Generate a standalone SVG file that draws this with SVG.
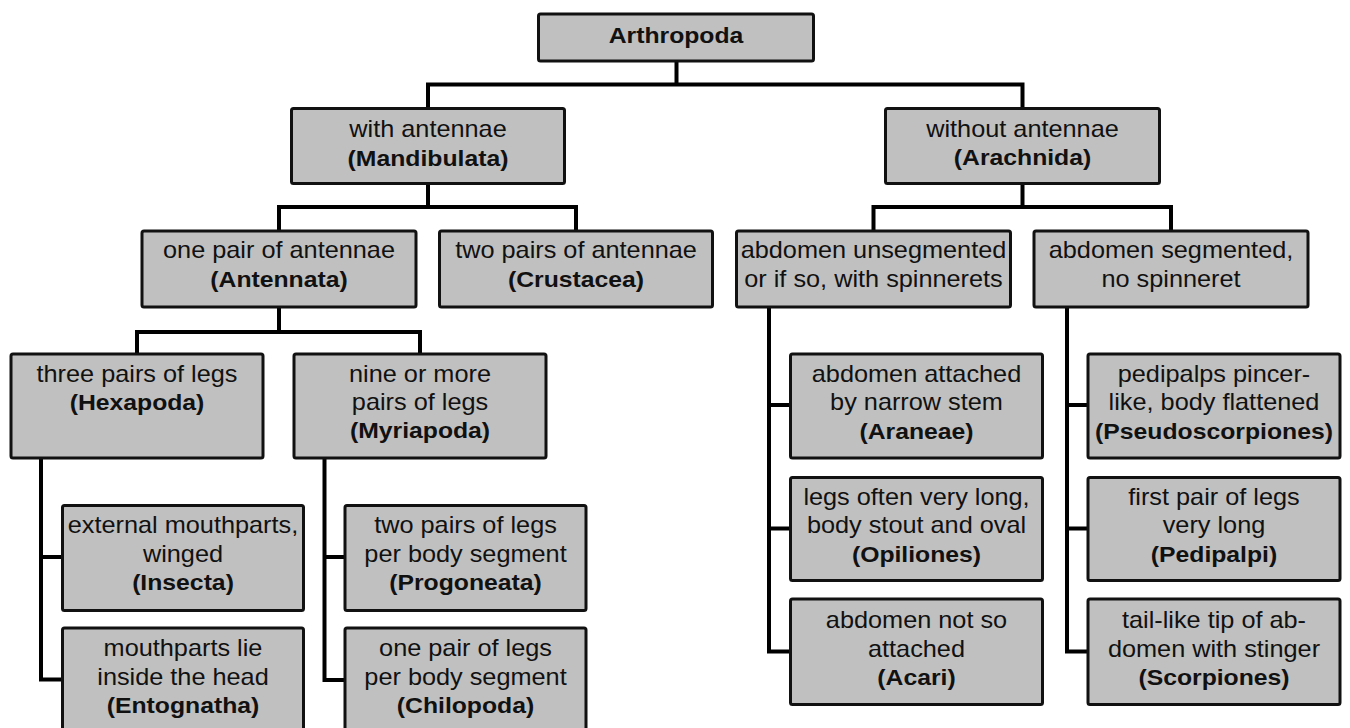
<svg xmlns="http://www.w3.org/2000/svg" width="1350" height="728" viewBox="0 0 1350 728">
<style>
.box{fill:#c0c0c0;stroke:#111;stroke-width:3;rx:2;ry:2}
.con{fill:none;stroke:#000;stroke-width:4;stroke-linejoin:miter;stroke-linecap:square}
text{font-family:"Liberation Sans",Arial,Helvetica,sans-serif;font-size:23px;fill:#111;text-anchor:middle}
.b{font-weight:bold;font-size:22.5px}
</style>
<rect width="1350" height="728" fill="#fff"/>
<g id="connectors">
<path class="con" d="M676.5 62V84.5M428 107V84.5H1022.5V107"/>
<path class="con" d="M428 184V207M279 230V207H576V230"/>
<path class="con" d="M1022.5 185V207M873.5 230V207H1171V230"/>
<path class="con" d="M279 308V332M137 353V332H420V353"/>
<path class="con" d="M41 459V679.5H62M41 557H62"/>
<path class="con" d="M324.5 459V680H345M324.5 557H345"/>
<path class="con" d="M769 308V651.5H790M769 405H790M769 528.5H790"/>
<path class="con" d="M1067 308V651.5H1088M1067 405H1088M1067 528.5H1088"/>
</g>
<g id="arthropoda"><rect class="box" x="538.5" y="14" width="275" height="47"/>
<text transform="translate(676 0) scale(1.1 1)"><tspan class="b" x="0" y="43">Arthropoda</tspan></text></g>
<g id="mandibulata"><rect class="box" x="291.5" y="108.5" width="273" height="75"/>
<text transform="translate(428 0) scale(1.1 1)"><tspan x="0" y="137.3">with antennae</tspan><tspan class="b" x="0" y="165.7">(Mandibulata)</tspan></text></g>
<g id="arachnida"><rect class="box" x="885.5" y="108.5" width="274" height="75"/>
<text transform="translate(1022.5 0) scale(1.1 1)"><tspan x="0" y="137">without antennae</tspan><tspan class="b" x="0" y="165.4">(Arachnida)</tspan></text></g>
<g id="antennata"><rect class="box" x="142" y="231" width="274" height="76"/>
<text transform="translate(279 0) scale(1.1 1)"><tspan x="0" y="258.3">one pair of antennae</tspan><tspan class="b" x="0" y="286.7">(Antennata)</tspan></text></g>
<g id="crustacea"><rect class="box" x="439.5" y="231" width="273" height="76"/>
<text transform="translate(576 0) scale(1.1 1)"><tspan x="0" y="258.3">two pairs of antennae</tspan><tspan class="b" x="0" y="286.7">(Crustacea)</tspan></text></g>
<g id="abdomen-unsegmented"><rect class="box" x="736.5" y="231" width="274" height="76"/>
<text transform="translate(873.5 0) scale(1.1 1)"><tspan x="0" y="258.3">abdomen unsegmented</tspan><tspan x="0" y="286.7">or if so, with spinnerets</tspan></text></g>
<g id="abdomen-segmented"><rect class="box" x="1034" y="231" width="274" height="76"/>
<text transform="translate(1171 0) scale(1.1 1)"><tspan x="0" y="258.3">abdomen segmented,</tspan><tspan x="0" y="286.7">no spinneret</tspan></text></g>
<g id="hexapoda"><rect class="box" x="11" y="354" width="252" height="104"/>
<text transform="translate(137 0) scale(1.1 1)"><tspan x="0" y="381.7">three pairs of legs</tspan><tspan class="b" x="0" y="410">(Hexapoda)</tspan></text></g>
<g id="myriapoda"><rect class="box" x="294" y="354" width="252" height="104"/>
<text transform="translate(420 0) scale(1.1 1)"><tspan x="0" y="381.7">nine or more</tspan><tspan x="0" y="410">pairs of legs</tspan><tspan class="b" x="0" y="438.4">(Myriapoda)</tspan></text></g>
<g id="insecta"><rect class="box" x="62.5" y="505.5" width="241" height="105"/>
<text transform="translate(183 0) scale(1.1 1)"><tspan x="0" y="533.3">external mouthparts,</tspan><tspan x="0" y="561.7">winged</tspan><tspan class="b" x="0" y="590">(Insecta)</tspan></text></g>
<g id="entognatha"><rect class="box" x="62.5" y="628" width="241" height="106"/>
<text transform="translate(183 0) scale(1.1 1)"><tspan x="0" y="656.5">mouthparts lie</tspan><tspan x="0" y="684.9">inside the head</tspan><tspan class="b" x="0" y="713.2">(Entognatha)</tspan></text></g>
<g id="progoneata"><rect class="box" x="345" y="505.5" width="241" height="105"/>
<text transform="translate(465.5 0) scale(1.1 1)"><tspan x="0" y="533.3">two pairs of legs</tspan><tspan x="0" y="561.7">per body segment</tspan><tspan class="b" x="0" y="590">(Progoneata)</tspan></text></g>
<g id="chilopoda"><rect class="box" x="345" y="628" width="241" height="106"/>
<text transform="translate(465.5 0) scale(1.1 1)"><tspan x="0" y="656.5">one pair of legs</tspan><tspan x="0" y="684.9">per body segment</tspan><tspan class="b" x="0" y="713.2">(Chilopoda)</tspan></text></g>
<g id="araneae"><rect class="box" x="790.5" y="354" width="252" height="104"/>
<text transform="translate(916.5 0) scale(1.1 1)"><tspan x="0" y="382">abdomen attached</tspan><tspan x="0" y="410.4">by narrow stem</tspan><tspan class="b" x="0" y="438.8">(Araneae)</tspan></text></g>
<g id="opiliones"><rect class="box" x="790.5" y="477.5" width="252" height="103"/>
<text transform="translate(916.5 0) scale(1.1 1)"><tspan x="0" y="505">legs often very long,</tspan><tspan x="0" y="533.3">body stout and oval</tspan><tspan class="b" x="0" y="561.7">(Opiliones)</tspan></text></g>
<g id="acari"><rect class="box" x="790.5" y="599" width="252" height="105.5"/>
<text transform="translate(916.5 0) scale(1.1 1)"><tspan x="0" y="628.3">abdomen not so</tspan><tspan x="0" y="656.7">attached</tspan><tspan class="b" x="0" y="685">(Acari)</tspan></text></g>
<g id="pseudoscorpiones"><rect class="box" x="1088" y="354" width="252" height="104"/>
<text transform="translate(1214 0) scale(1.1 1)"><tspan x="0" y="382">pedipalps pincer-</tspan><tspan x="0" y="410.4">like, body flattened</tspan><tspan class="b" x="0" y="438.8">(Pseudoscorpiones)</tspan></text></g>
<g id="pedipalpi"><rect class="box" x="1088" y="477.5" width="252" height="103"/>
<text transform="translate(1214 0) scale(1.1 1)"><tspan x="0" y="505">first pair of legs</tspan><tspan x="0" y="533.3">very long</tspan><tspan class="b" x="0" y="561.7">(Pedipalpi)</tspan></text></g>
<g id="scorpiones"><rect class="box" x="1088" y="599" width="252" height="105.5"/>
<text transform="translate(1214 0) scale(1.1 1)"><tspan x="0" y="628.3">tail-like tip of ab-</tspan><tspan x="0" y="656.7">domen with stinger</tspan><tspan class="b" x="0" y="685">(Scorpiones)</tspan></text></g>
</svg>
